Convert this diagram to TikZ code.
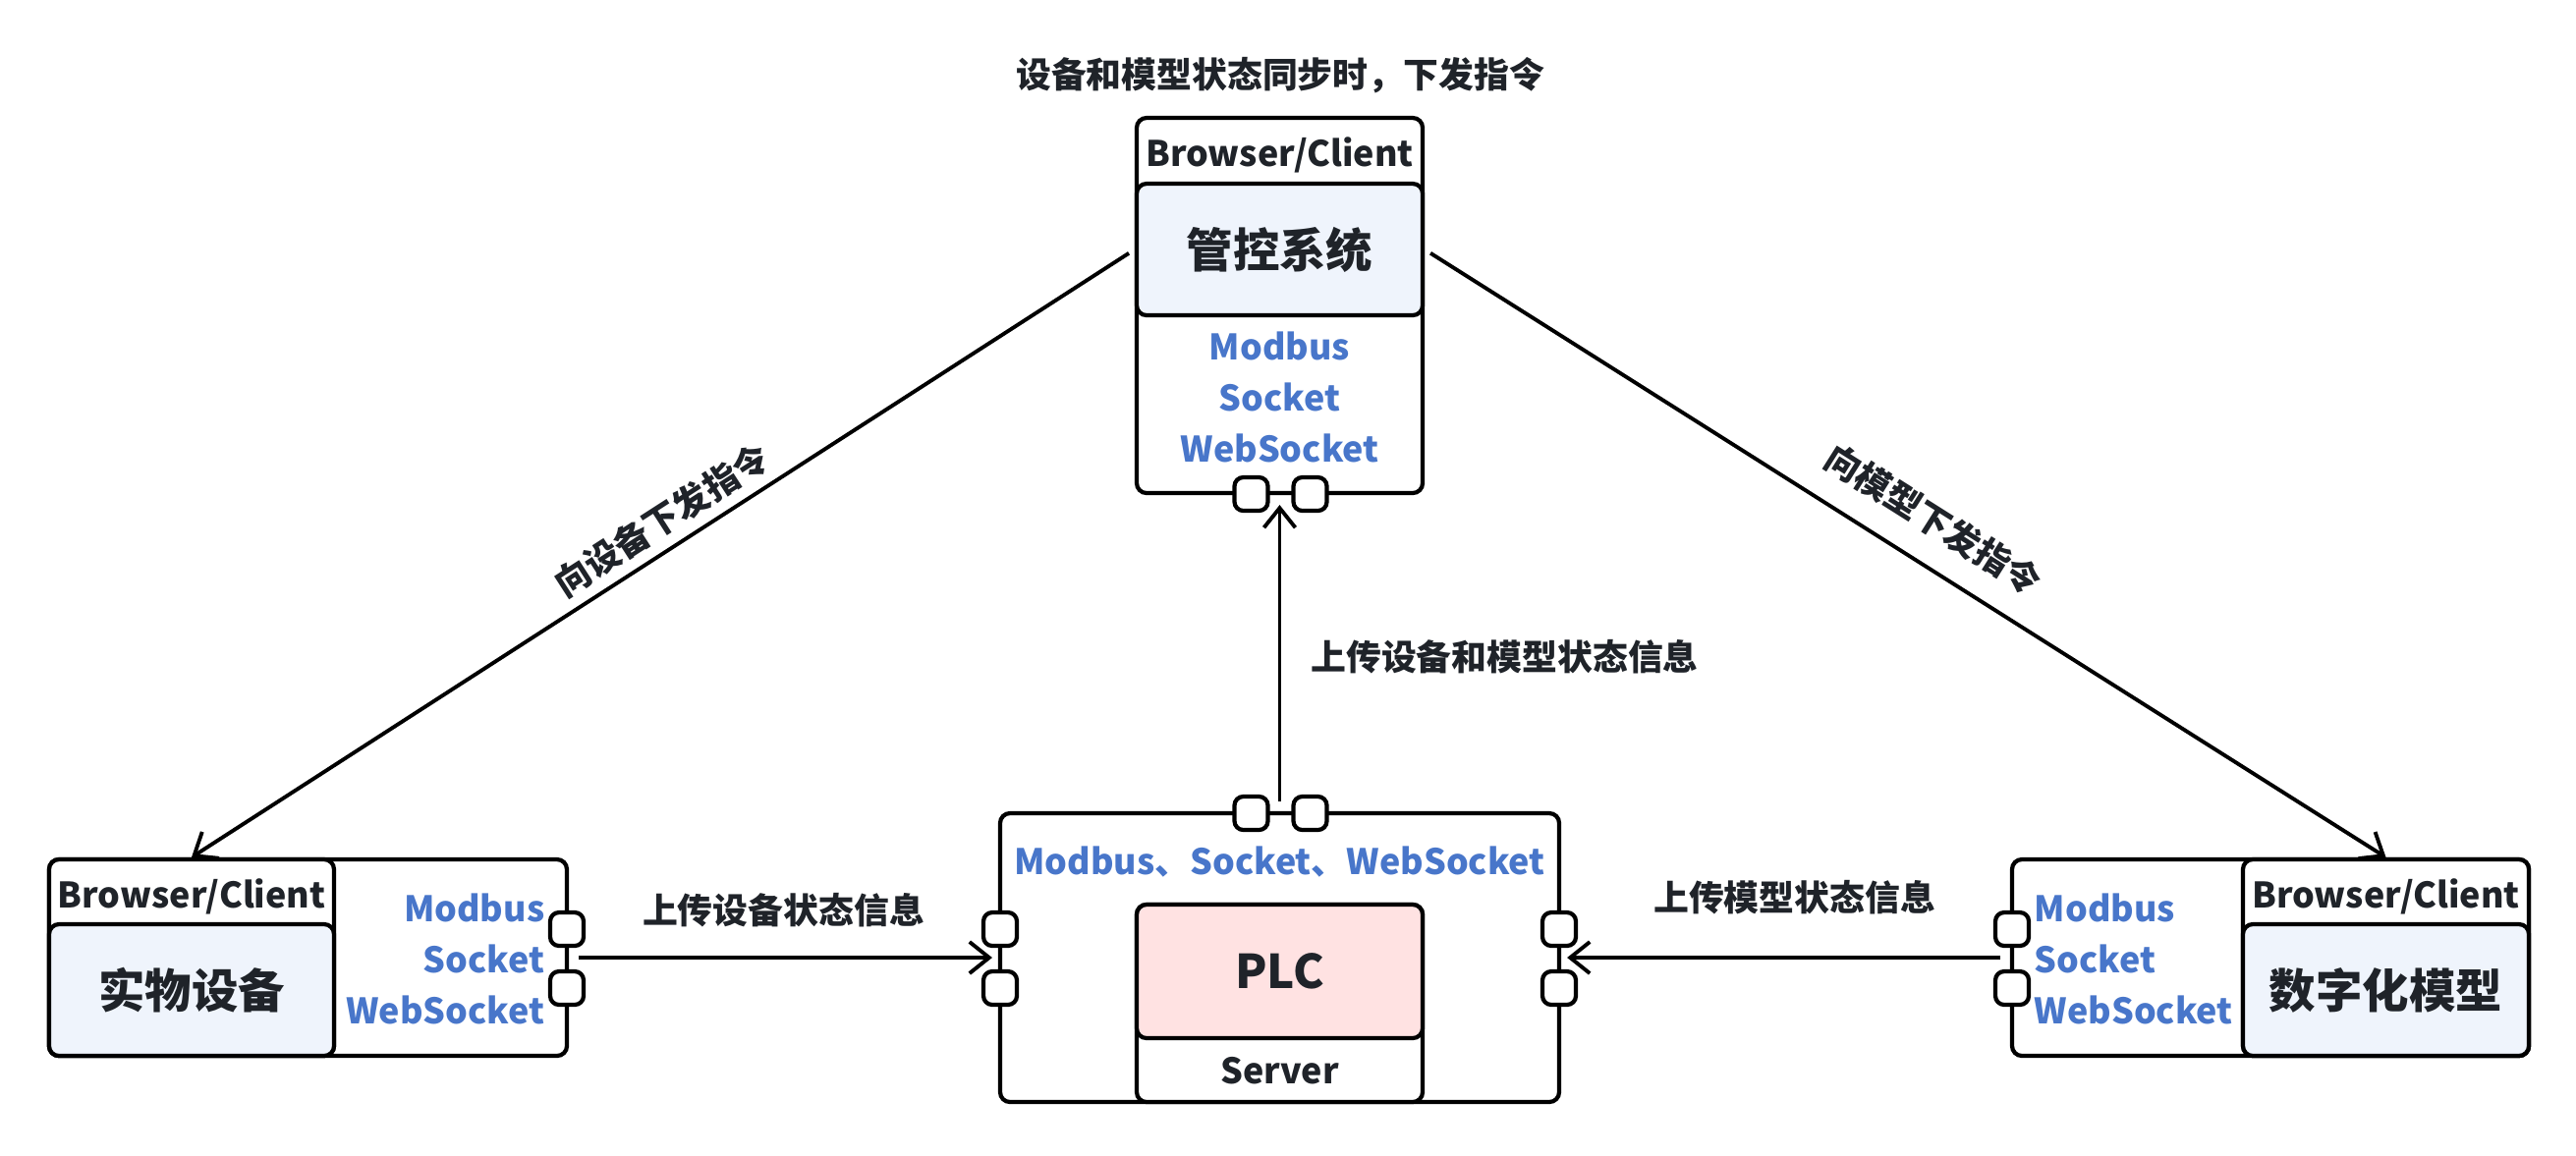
\documentclass[tikz,border=0pt]{standalone}
\usepackage{fontspec}
\setmainfont{Noto Sans CJK SC}
\usetikzlibrary{arrows.meta}
\definecolor{inkdark}{RGB}{31,35,41}
\definecolor{protoblue}{RGB}{72,118,202}
\definecolor{clientfill}{RGB}{239,244,252}
\definecolor{plcfill}{RGB}{255,226,226}

\begin{document}
\begin{tikzpicture}[x=0.1mm, y=-0.1mm, >={Straight Barb[length=2mm, width=3.2mm]},
    every node/.style={text=inkdark, inner sep=0pt, font=\bfseries\fontsize{10.2}{12}\selectfont},
    boxframe/.style={draw=black, line width=1.2pt, rounded corners=1mm, fill=white},
    port/.style={draw=black, line width=1.2pt, rounded corners=0.9mm, fill=white, minimum width=3.4mm, minimum height=3.4mm},
    proto/.style={text=protoblue, font=\bfseries\fontsize{10.2}{14.8}\selectfont},
    bigtext/.style={font=\bfseries\fontsize{13.5}{16}\selectfont},
    link/.style={->, line width=1.1pt}]
    \fill[white] (0,0) rectangle (2622,1176);
    \useasboundingbox (0,0) rectangle (2622,1176);

    % control system (top)
    \node[boxframe, minimum width=29.1mm, minimum height=38.2mm] (ctrl) at (1302.5,311) {};
    \node (ctrlhead) at (1302.5,158) {Browser/Client};
    \node[boxframe, fill=clientfill, minimum width=29.1mm, minimum height=13.4mm, bigtext] (ctrlmain) at (1302.5,254) {管控系统};
    \node[proto, align=center] (ctrlproto) at (1302.5,404) {Modbus\\Socket\\WebSocket};
    \foreach \x/\n in {1273.5/a, 1333.5/b} \node[port] (ctrlport\n) at (\x,503) {};
    \node (synctext) at (1303,77) {设备和模型状态同步时，下发指令};

    % physical device (left)
    \node[boxframe, minimum width=52.7mm, minimum height=20mm] (dev) at (313.5,975) {};
    \node[boxframe, minimum width=29mm, minimum height=20mm] (devclient) at (195,975) {};
    \node (devhead) at (195,913) {Browser/Client};
    \node[boxframe, fill=clientfill, minimum width=29mm, minimum height=13.4mm, bigtext] (devmain) at (195,1008) {实物设备};
    \node[proto, align=right, anchor=east] (devproto) at (555,976) {Modbus\\Socket\\WebSocket};
    \foreach \y/\n in {946/a, 1006/b} \node[port] (devport\n) at (577,\y) {};

    % digital model (right)
    \node[boxframe, minimum width=52.6mm, minimum height=20mm] (model) at (2311,975) {};
    \node[boxframe, minimum width=29.1mm, minimum height=20mm] (modelclient) at (2428.5,975) {};
    \node (modelhead) at (2428.5,913) {Browser/Client};
    \node[boxframe, fill=clientfill, minimum width=29.1mm, minimum height=13.4mm, bigtext] (modelmain) at (2428.5,1008) {数字化模型};
    \node[proto, align=left, anchor=west] (modelproto) at (2070,976) {Modbus\\Socket\\WebSocket};
    \foreach \y/\n in {946/a, 1006/b} \node[port] (modelport\n) at (2048,\y) {};

    % PLC server (bottom)
    \node[boxframe, minimum width=56.9mm, minimum height=29.4mm] (plc) at (1302.5,975) {};
    \node[proto] (plcproto) at (1302.5,878) {Modbus、Socket、WebSocket};
    \node[boxframe, minimum width=29.1mm, minimum height=20.1mm] (plcserver) at (1302.5,1021.5) {};
    \node (servertext) at (1302.5,1090) {Server};
    \node[boxframe, fill=plcfill, minimum width=29.1mm, minimum height=13.6mm, bigtext] (plcmain) at (1302.5,989) {PLC};
    \foreach \x/\n in {1273.5/a, 1333.5/b} \node[port] (plctop\n) at (\x,828) {};
    \foreach \y/\n in {946/a, 1006/b} {
        \node[port] (plcleft\n) at (1018,\y) {};
        \node[port] (plcright\n) at (1587,\y) {};
    }

    % connectors
    \draw[link, shorten <=0.7mm] (ctrlmain.west) -- (devclient.north)
        node[pos=0.485, sloped, above=1mm] {向设备下发指令};
    \draw[link, shorten <=0.7mm] (ctrlmain.east) -- (modelclient.north)
        node[pos=0.505, sloped, above=2.5mm] {向模型下发指令};
    \draw[link, shorten <=1mm, shorten >=1mm] (plc.north) -- (ctrl.south)
        node[pos=0.49, right=3mm] {上传设备和模型状态信息};
    \draw[link, shorten <=1mm, shorten >=0.6mm] (dev.east) -- (plc.west)
        node[midway, above=2.9mm] {上传设备状态信息};
    \draw[link, shorten <=1mm, shorten >=0.6mm] (model.west) -- (plc.east)
        node[pos=0.48, above=4.2mm] {上传模型状态信息};
\end{tikzpicture}
\end{document}
